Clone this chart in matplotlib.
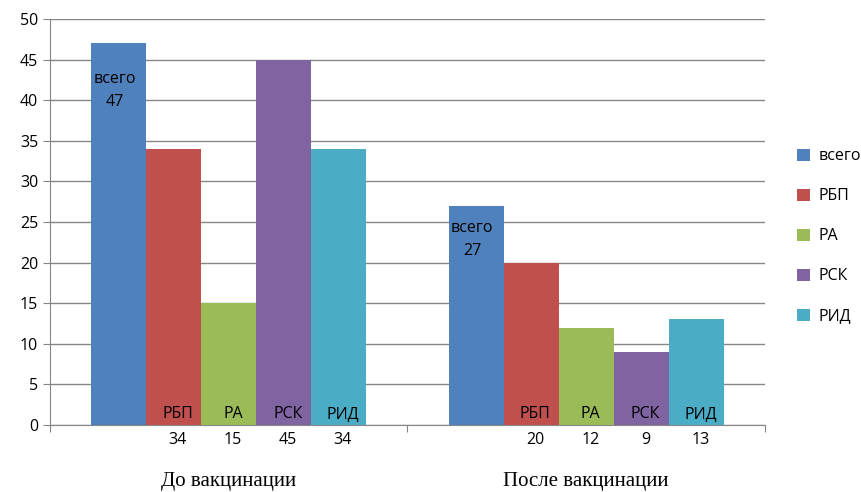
import numpy as np
from matplotlib import pyplot as plt

groups = ['До вакцинации', 'После вакцинации']
series = ['всего', 'РБП', 'РА', 'РСК', 'РИД']
vsego = [47, 27]
rbp = [34, 20]
ra = [15, 12]
rsk = [45, 9]
rid = [34, 13]

colors = ['#4F81BD', '#C0504D', '#9BBB59', '#8064A2', '#4BACC6']
values = [vsego, rbp, ra, rsk, rid]

fig = plt.figure(figsize=(8.61, 4.92), dpi=100)
ax = fig.add_axes([50 / 861, 67 / 492, 715 / 861, 406 / 492])

x = np.arange(len(groups))
w = 1 / 6.5
for i, (name, vals) in enumerate(zip(series, values)):
    pos = x + (i - 2) * w
    ax.bar(pos, vals, width=w, color=colors[i], label=name, zorder=3)
    for j, v in enumerate(vals):
        if i == 0:
            # total goes inside the top of the bar
            drop = [20, 10][j]
            ax.annotate(f'{name}\n{v}', (pos[j], v), xytext=(-3, -drop),
                        textcoords='offset points', ha='center', va='top',
                        fontsize=11.5, family='Open Sans', linespacing=1.6)
        else:
            ax.annotate(name, (pos[j], 0), xytext=(3, 8),
                        textcoords='offset points', ha='center', va='center',
                        fontsize=11.5, family='Open Sans')
            ax.annotate(str(v), (pos[j], 0), xytext=(3, -11),
                        textcoords='offset points', ha='center', va='center',
                        fontsize=11.5, family='Open Sans', annotation_clip=False)

for j, g in enumerate(groups):
    ax.annotate(g, (x[j], 0), xytext=(0, -41), textcoords='offset points',
                ha='center', va='center', fontsize=15, family='Liberation Serif',
                annotation_clip=False)

ax.set_xlim(-0.5, 1.5)
ax.set_ylim(0, 50)
ax.set_yticks(range(0, 51, 5))
ax.set_xticks([-0.5, 0.5, 1.5])
ax.set_xticklabels([])
ax.yaxis.grid(True, color='#868686', linewidth=1, zorder=0)
for s in ['top', 'right']:
    ax.spines[s].set_visible(False)
for s in ['left', 'bottom']:
    ax.spines[s].set_color('#868686')
ax.tick_params(axis='both', colors='#868686', length=5, labelcolor='black')
for lbl in ax.get_yticklabels():
    lbl.set_family('Open Sans')
    lbl.set_fontsize(11.5)

fig.legend(loc='upper left', bbox_to_anchor=(783 / 861, 1 - 134 / 492),
           frameon=False, prop={'family': 'Open Sans', 'size': 11.5},
           handlelength=0.8, handleheight=0.8, labelspacing=1.5,
           handletextpad=0.5)

fig.savefig('out.png', dpi=100)
